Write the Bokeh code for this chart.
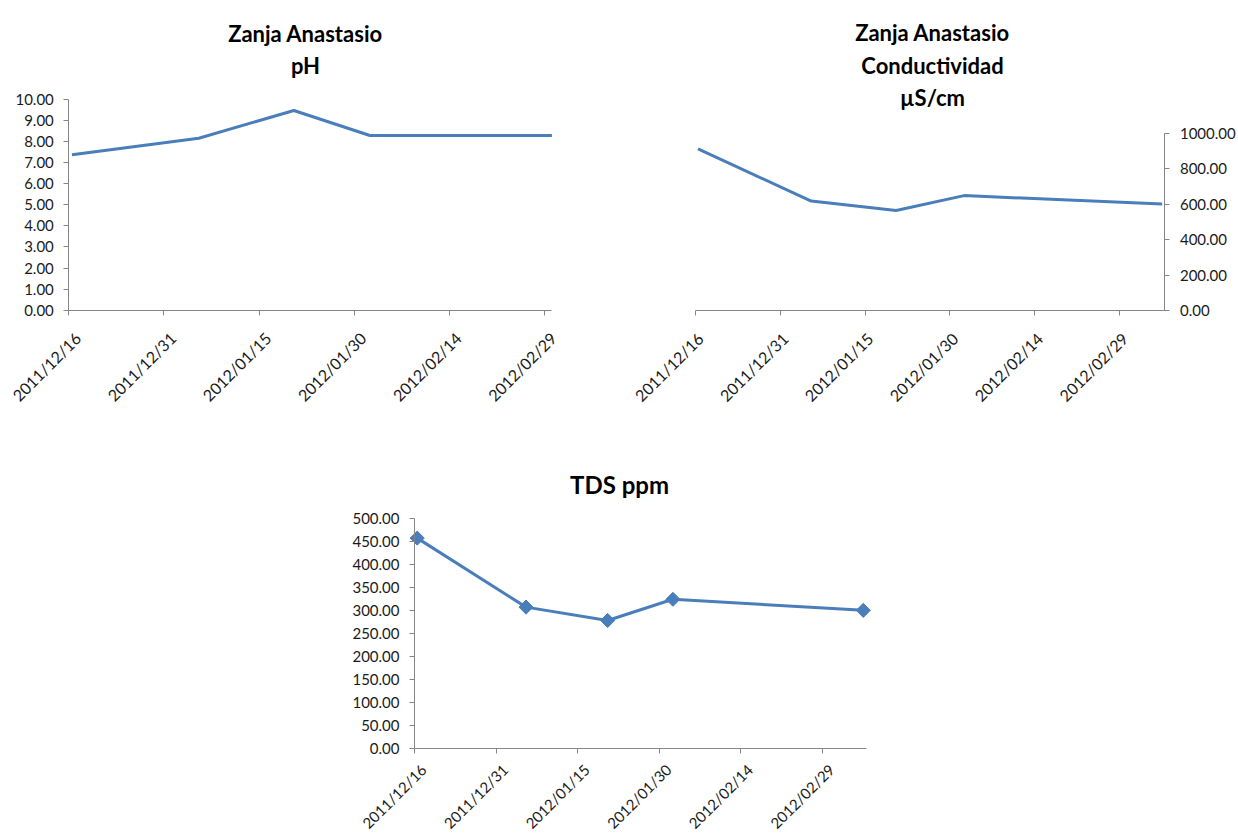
import math
import pandas as pd
from bokeh.plotting import figure
from bokeh.models import (Range1d, FixedTicker, NumeralTickFormatter, Label,
                          LabelSet, ColumnDataSource, CustomJSTickFormatter,
                          BoxAnnotation)
from bokeh.core.properties import value
from bokeh.layouts import column, row
from bokeh.embed import file_html
from bokeh.resources import INLINE

# ---- data ----
dates = ["2011-12-16", "2012-01-05", "2012-01-20", "2012-02-01", "2012-03-07"]
ph = [7.38, 8.16, 9.48, 8.29, 8.29]
conductividad = [912, 617, 564, 648, 600]
tds = [458, 308, 279, 325, 301]
tick_dates = ["2011-12-16", "2011-12-31", "2012-01-15", "2012-01-30",
              "2012-02-14", "2012-02-29"]
tick_labels = ["2011/12/16", "2011/12/31", "2012/01/15", "2012/01/30",
               "2012/02/14", "2012/02/29"]
ph_ticks = [0, 1, 2, 3, 4, 5, 6, 7, 8, 9, 10]
cond_ticks = [0, 200, 400, 600, 800, 1000]
tds_ticks = [0, 50, 100, 150, 200, 250, 300, 350, 400, 450, 500]
ph_title = ["Zanja Anastasio", "pH"]
cond_title = ["Zanja Anastasio", "Conductividad", "µS/cm"]
tds_title = ["TDS ppm"]

BLUE = "#4A7EBB"
AXIS = "#868686"
TXT = "#1a1a1a"
FONT = "Lato"

x0 = pd.Timestamp("2011-12-16")
x = pd.to_datetime(dates) + pd.Timedelta(hours=12)
xt = [int(v) for v in (pd.to_datetime(tick_dates).astype("int64") // 10**6)]


def ms(ts):
    return int(pd.Timestamp(ts).value // 10**6)


def chart(W, H, px0, ppd, py0, ppu, xend_days, ymax, yticks, yloc="left",
          lab_off=(12, -25), lab_size="16px"):
    """Figure whose frame is the whole chart region.
    px0: pixel of first date from region left; ppd: pixels per day;
    py0: pixel of value 0 from region top; ppu: pixels per unit."""
    xs = x0 - pd.Timedelta(days=px0 / ppd)
    xe = xs + pd.Timedelta(days=W / ppd)
    p = figure(frame_width=W, frame_height=H, min_border=0,
               output_backend="svg", toolbar_location=None,
               x_axis_type="datetime", y_axis_location=yloc,
               x_range=Range1d(xs, xe),
               y_range=Range1d(-(H - py0) / ppu, py0 / ppu))
    p.title.visible = False
    p.xgrid.visible = False
    p.ygrid.visible = False
    p.outline_line_color = None
    xend = x0 + pd.Timedelta(days=xend_days)
    p.xaxis.fixed_location = 0
    p.xaxis.bounds = (ms(x0), ms(xend))
    p.xaxis.ticker = FixedTicker(ticks=xt)
    p.xaxis.formatter = CustomJSTickFormatter(code="return ''")
    p.yaxis.fixed_location = ms(x0) if yloc == "left" else ms(xend)
    p.yaxis.bounds = (0, ymax)
    p.yaxis.ticker = FixedTicker(ticks=yticks)
    p.yaxis.formatter = NumeralTickFormatter(format="0.00")
    for ax in p.axis:
        ax.axis_line_color = AXIS
        ax.major_tick_line_color = AXIS
        ax.minor_tick_line_color = None
        ax.major_tick_out = 5
        ax.major_tick_in = 0
        ax.major_label_text_font = FONT
        ax.major_label_text_font_size = "15px"
        ax.major_label_text_color = TXT
    p.yaxis.major_label_standoff = 10
    src = ColumnDataSource(dict(x=xt, y=[0] * len(xt), text=tick_labels))
    p.add_layout(LabelSet(x="x", y="y", text="text", source=src,
                          angle=math.pi / 4, text_align="right",
                          text_baseline="middle", x_offset=lab_off[0],
                          y_offset=lab_off[1], text_font=value(FONT),
                          text_font_size=lab_size, text_color=TXT))
    return p, xend


def add_titles(p, lines, X0, Y0, H, cx, baselines, size):
    for t, by in zip(lines, baselines):
        p.add_layout(Label(x=cx - X0, y=(Y0 + H) - by, x_units="screen",
                           y_units="screen", text=t, text_align="center",
                           text_baseline="alphabetic", text_font=FONT,
                           text_font_size=size, text_font_style="bold",
                           text_color="#000000"))


# pH  (region x 0..608, y 0..420)
p1, end1 = chart(608, 420, 68.3, 6.34, 309.7, 21.07, 76.2, 10, ph_ticks,
                 lab_off=(9, -25))
p1.line(x, ph, line_color=BLUE, line_width=3)
# Excel clips the series at the end of the date axis
p1.add_layout(BoxAnnotation(left=end1, bottom=0.5, fill_color="white",
                            fill_alpha=1.0, line_color=None))
add_titles(p1, ph_title, 0, 0, 420, 305, [33.3, 65], "22px")

# Conductividad  (region x 608..1238, y 0..420)
p2, _ = chart(630, 420, 86.7, 5.66, 310, 0.1773, 83, 1000, cond_ticks,
              yloc="right", lab_off=(5, -25))
p2.line(x, conductividad, line_color=BLUE, line_width=3)
add_titles(p2, cond_title, 608, 0, 420, 932, [31.7, 65, 97], "22px")

# TDS  (region x 0..1230, y 420..835)
p3, _ = chart(1230, 415, 414, 5.44, 328.3, 0.46, 83, 500, tds_ticks,
              lab_off=(9, -18), lab_size="15px")
p3.line(x, tds, line_color=BLUE, line_width=3)
p3.scatter(x, tds, marker="square", angle=math.pi / 4, size=10,
           fill_color=BLUE, line_color=BLUE)
add_titles(p3, tds_title, 0, 420, 415, 619, [484], "24px")

layout = column(row(p1, p2), p3)
open("out.html", "w").write(file_html(layout, INLINE))
